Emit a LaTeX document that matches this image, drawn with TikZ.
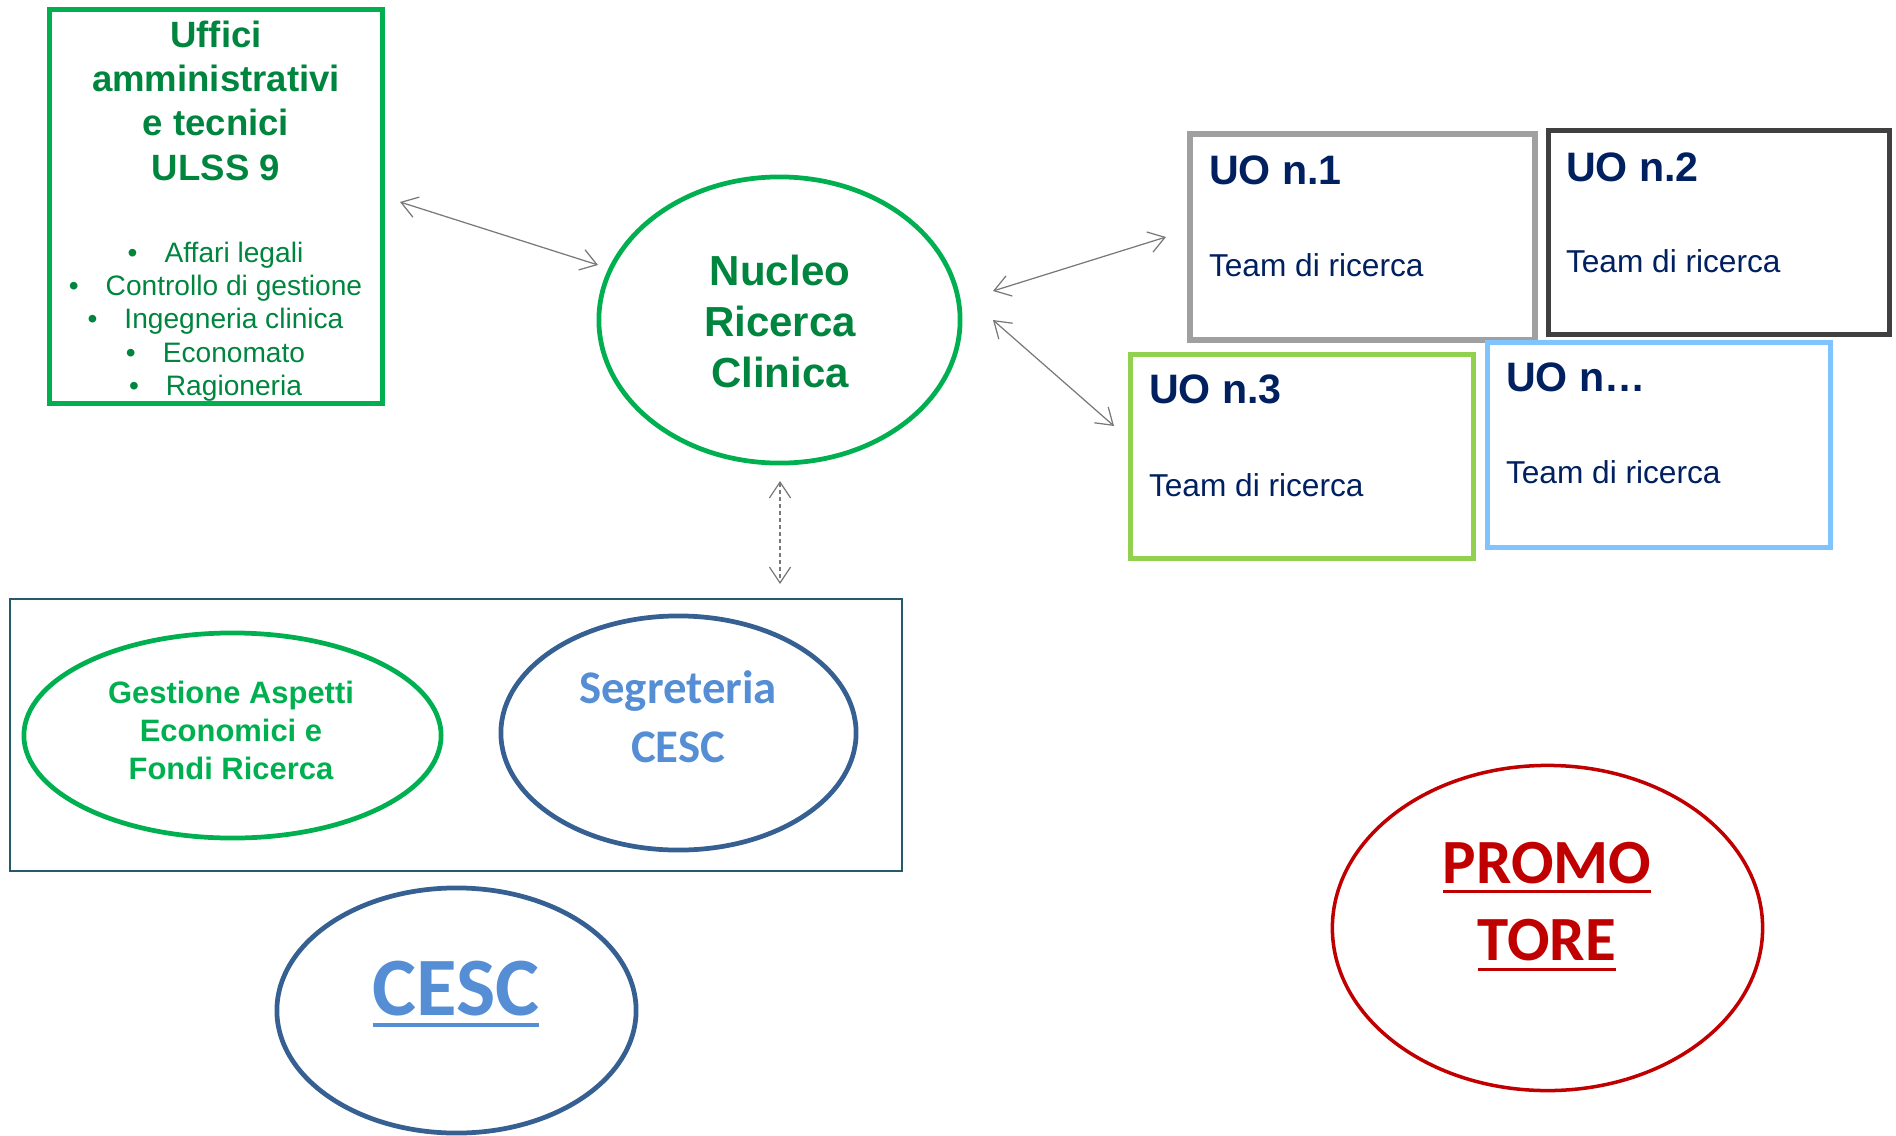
\documentclass[tikz,border=0pt]{standalone}
\usepackage{fontspec}
\setmainfont{Liberation Sans}
\newfontfamily\calib{Carlito}
\usetikzlibrary{shapes.geometric,arrows.meta}
\definecolor{boxgreen}{RGB}{0,176,80}
\definecolor{txtgreen}{RGB}{0,133,62}
\definecolor{uonavy}{RGB}{0,32,96}
\definecolor{segblue}{RGB}{85,142,213}
\definecolor{ringblue}{RGB}{54,96,146}
\definecolor{contteal}{RGB}{38,90,105}
\definecolor{promred}{RGB}{192,0,0}
\definecolor{uogray}{RGB}{160,160,160}
\definecolor{uodark}{RGB}{64,64,64}
\definecolor{uolime}{RGB}{146,208,80}
\definecolor{uosky}{RGB}{128,196,255}
\definecolor{arrgray}{RGB}{120,120,120}
\begin{document}
\begin{tikzpicture}[x=0.01cm,y=-0.01cm,
  shapebox/.style={draw, rectangle, inner sep=0pt, outer sep=0pt},
  oval/.style={draw, ellipse, inner sep=0pt, outer sep=0pt},
  txt/.style={inner sep=0pt, outer sep=0pt, anchor=base},
  txtw/.style={inner sep=0pt, outer sep=0pt, anchor=base west},
  ttl/.style={txt, text=txtgreen, font=\bfseries\fontsize{10.4}{12}\selectfont},
  blt/.style={txt, text=txtgreen, font=\fontsize{8}{9}\selectfont},
  nuc/.style={txt, text=txtgreen, font=\bfseries\fontsize{11.95}{14}\selectfont},
  gest/.style={txt, text=boxgreen, font=\bfseries\fontsize{8.8}{10}\selectfont},
  segr/.style={txt, text=segblue, font=\calib\bfseries\fontsize{13.3}{15}\selectfont},
  uotitle/.style={txtw, text=uonavy, font=\bfseries\fontsize{11.7}{13}\selectfont},
  uoteam/.style={txtw, text=uonavy, font=\fontsize{9}{10}\selectfont},
  conn/.style={draw=arrgray, line width=0.35pt,
    arrows={Straight Barb[length=4.5pt,width=6pt]-Straight Barb[length=4.5pt,width=6pt]}}
]
\useasboundingbox (0,0) rectangle (1896,1136);

% Uffici box
\node[shapebox, draw=boxgreen, line width=1.45pt, minimum width=3.32cm, minimum height=3.93cm] (uffici) at (216,206.5) {};
\node[ttl] (t1) at (216,47) {Uffici};
\node[ttl] (t2) at (216,91) {amministrativi};
\node[ttl] (t3) at (216,135) {e tecnici};
\node[ttl] (t4) at (216,180) {ULSS 9};
\node[blt] (b1) at (215.5,262) {•\hspace{7.7pt}Affari legali};
\node[blt] (b2) at (215.5,295) {•\hspace{7.7pt}Controllo di gestione};
\node[blt] (b3) at (215.5,328) {•\hspace{7.7pt}Ingegneria clinica};
\node[blt] (b4) at (215.5,362.5) {•\hspace{7.7pt}Economato};
\node[blt] (b5) at (215.5,395) {•\hspace{7.7pt}Ragioneria};

% Nucleo
\node[oval, draw=boxgreen, line width=1.35pt, minimum width=3.61cm, minimum height=2.86cm] (nucleo) at (779.5,320) {};
\node[nuc] (n1) at (780,285) {Nucleo};
\node[nuc] (n2) at (780,336) {Ricerca};
\node[nuc] (n3) at (780,387) {Clinica};

% UO boxes
\node[shapebox, fill=white, draw=uogray, line width=1.6pt, minimum width=3.45cm, minimum height=2.06cm] (uo1) at (1362.5,237) {};
\node[uotitle] (uo1t) at (1209,184) {UO n.1};
\node[uoteam] (uo1m) at (1209,276) {Team di ricerca};
\node[shapebox, fill=white, draw=uodark, line width=1.6pt, minimum width=3.41cm, minimum height=2.04cm] (uo2) at (1719,232.5) {};
\node[uotitle] (uo2t) at (1566,181) {UO n.2};
\node[uoteam] (uo2m) at (1566,272) {Team di ricerca};
\node[shapebox, fill=white, draw=uolime, line width=1.6pt, minimum width=3.43cm, minimum height=2.04cm] (uo3) at (1302,456.5) {};
\node[uotitle] (uo3t) at (1149,403) {UO n.3};
\node[uoteam] (uo3m) at (1149,496) {Team di ricerca};
\node[shapebox, fill=white, draw=uosky, line width=1.6pt, minimum width=3.43cm, minimum height=2.05cm] (uon) at (1659,445) {};
\node[uotitle] (uont) at (1506,391) {UO n\dots};
\node[uoteam] (uonm) at (1506,483) {Team di ricerca};

% container
\node[shapebox, draw=contteal, line width=0.55pt, minimum width=8.92cm, minimum height=2.72cm] (cont) at (456,735) {};
\node[oval, draw=boxgreen, line width=1.35pt, minimum width=4.17cm, minimum height=2.05cm] (gest) at (232.5,735.5) {};
\node[gest] (g1) at (231,703) {Gestione Aspetti};
\node[gest] (g2) at (231,741) {Economici e};
\node[gest] (g3) at (231,779) {Fondi Ricerca};
\node[oval, draw=ringblue, line width=1.35pt, minimum width=3.55cm, minimum height=2.34cm] (segr) at (678.5,733) {};
\node[segr] (s1) at (678,703) {Segreteria};
\node[segr] (s2) at (678,762) {CESC};

% CESC
\node[oval, draw=ringblue, line width=1.35pt, minimum width=3.59cm, minimum height=2.45cm] (cesc) at (456.5,1010.5) {};
\node[txt, text=segblue, font=\calib\bfseries\fontsize{23.6}{26}\selectfont] (cesct) at (456,1015) {CESC};
\draw[segblue, line width=1.14pt] ([yshift=-0.1cm]cesct.base west) -- ([yshift=-0.1cm]cesct.base east);

% PROMOTORE
\node[oval, draw=promred, line width=1pt, minimum width=4.30cm, minimum height=3.25cm] (prom) at (1547.5,928) {};
\node[txt, text=promred, font=\calib\bfseries\fontsize{17.9}{20}\selectfont] (p1) at (1547,883) {PROMO};
\node[txt, text=promred, font=\calib\bfseries\fontsize{17.9}{20}\selectfont] (p2) at (1547,960) {TORE};
\draw[promred, line width=1pt] ([yshift=-0.085cm]p1.base west) -- ([yshift=-0.085cm]p1.base east);
\draw[promred, line width=1pt] ([yshift=-0.095cm]p2.base west) -- ([yshift=-0.095cm]p2.base east);

% connectors
\coordinate (a1s) at (400,202);
\coordinate (a1e) at (598,265);
\coordinate (a2s) at (993,291);
\coordinate (a2e) at (1166,237);
\coordinate (a3s) at (993,320);
\coordinate (a3e) at (1114,426);
\coordinate (a4s) at (780,481);
\coordinate (a4e) at (780,584);
\draw[conn] (a1s) -- (a1e);
\draw[conn] (a2s) -- (a2e);
\draw[conn] (a3s) -- (a3e);
\draw[conn, dash pattern=on 1.2pt off 0.8pt] (a4s) -- (a4e);
\end{tikzpicture}
\end{document}
